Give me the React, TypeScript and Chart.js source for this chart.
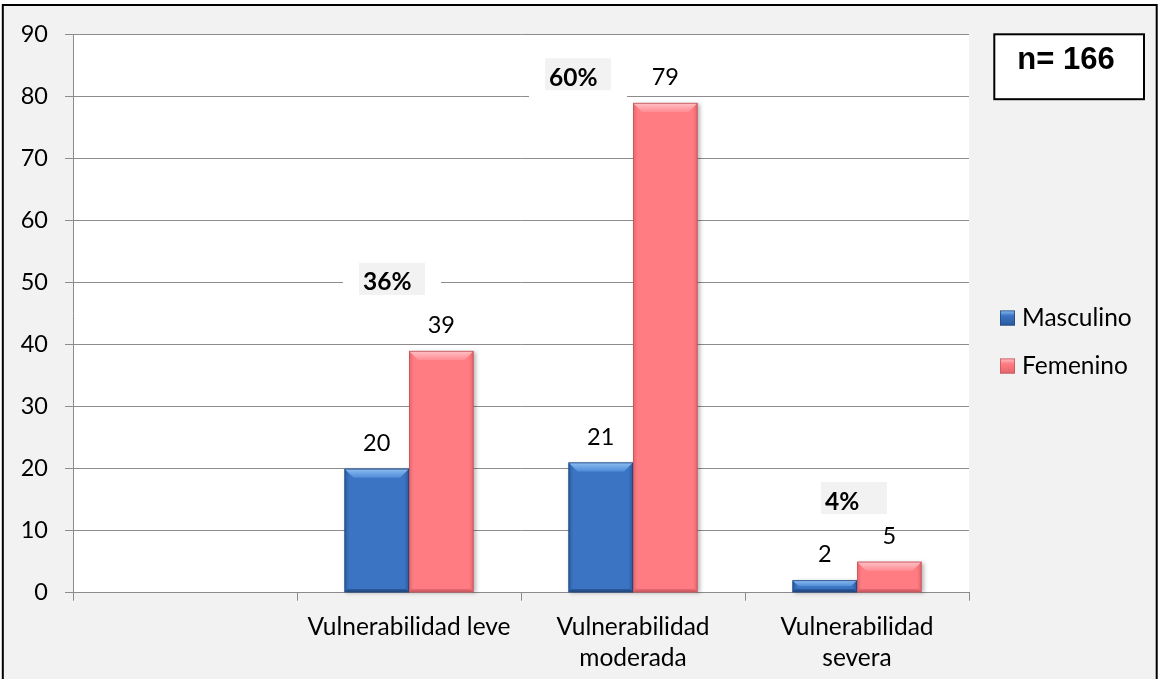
import React, { useEffect, useRef } from 'react';
import { Chart, registerables } from 'chart.js';

Chart.register(...registerables);

// ---- data ----
const categories: (string | string[])[] = [
  '',
  'Vulnerabilidad leve',
  ['Vulnerabilidad', 'moderada'],
  ['Vulnerabilidad', 'severa'],
];
const masculino: (number | null)[] = [null, 20, 21, 2];
const femenino: (number | null)[] = [null, 39, 79, 5];
const seriesNames = ['Masculino', 'Femenino'];
const percentLabels = ['', '36%', '60%', '4%'];
const sampleLabel = 'n= 166';
const yMin = 0;
const yMax = 90;
const yStep = 10;

// ---- layout ----
const W = 1159;
const H = 679;
const PLOT_LEFT = 73;
const PLOT_TOP = 34.7;
const PLOT_RIGHT = 969;
const PLOT_BOTTOM = 592.7;
const FONT = 'Lato, "Noto Sans", sans-serif';
const GRID = '#8c8c8c';

// where each percentage call-out sits: category index, pixel shift from the
// category centre, and the value-axis level of the box's upper edge
const calloutPlacement = [
  { cat: 1, dx: -17, top: 53.2 },
  { cat: 2, dx: -55, top: 86.2 },
  { cat: 3, dx: -3, top: 17.85 },
];

type Palette = {
  body: string;
  edge: string;
  hiTop: string;
  hiBottom: string;
  bottom: string;
  outline: string;
};

const BLUE: Palette = {
  body: '#3a74c2',
  edge: '#2a5aa0',
  hiTop: '#8fbff2',
  hiBottom: '#4f8bd8',
  bottom: '#244e8c',
  outline: '#22487f',
};
const PINK: Palette = {
  body: '#ff7c82',
  edge: '#e4656c',
  hiTop: '#ffc3c7',
  hiBottom: '#ff8d93',
  bottom: '#d85f68',
  outline: '#c2555d',
};
const palettes = [BLUE, PINK];

function bevelBar(ctx: CanvasRenderingContext2D, L: number, R: number, T: number, B: number, p: Palette) {
  const w = R - L;
  const h = B - T;
  if (w <= 0 || h <= 0) return;
  const b = Math.min(9, h / 2, w / 2);
  ctx.save();
  // body with soft shadow
  ctx.shadowColor = 'rgba(0,0,0,0.28)';
  ctx.shadowBlur = 4;
  ctx.shadowOffsetX = 2;
  ctx.shadowOffsetY = 1;
  const g = ctx.createLinearGradient(L, 0, R, 0);
  g.addColorStop(0, p.edge);
  g.addColorStop(0.07, p.body);
  g.addColorStop(0.93, p.body);
  g.addColorStop(1, p.edge);
  ctx.fillStyle = g;
  ctx.fillRect(L, T, w, h);
  ctx.shadowColor = 'transparent';
  // top facet
  const tg = ctx.createLinearGradient(0, T, 0, T + b);
  tg.addColorStop(0, p.hiTop);
  tg.addColorStop(1, p.hiBottom);
  ctx.fillStyle = tg;
  ctx.beginPath();
  ctx.moveTo(L, T);
  ctx.lineTo(R, T);
  ctx.lineTo(R - b, T + b);
  ctx.lineTo(L + b, T + b);
  ctx.closePath();
  ctx.fill();
  // bottom facet
  const bb = Math.min(3, h / 4);
  ctx.fillStyle = p.bottom;
  ctx.beginPath();
  ctx.moveTo(L, B);
  ctx.lineTo(R, B);
  ctx.lineTo(R - bb, B - bb);
  ctx.lineTo(L + bb, B - bb);
  ctx.closePath();
  ctx.fill();
  // outline
  ctx.strokeStyle = p.outline;
  ctx.lineWidth = 0.8;
  ctx.strokeRect(L + 0.4, T + 0.4, w - 0.8, h - 0.8);
  ctx.restore();
}

const decorPlugin = {
  id: 'decor',
  beforeDraw(chart: any) {
    const ctx: CanvasRenderingContext2D = chart.ctx;
    ctx.save();
    ctx.fillStyle = '#ffffff';
    ctx.fillRect(0, 0, W, H);
    ctx.fillStyle = '#f2f2f2';
    ctx.fillRect(3, 5, 1154, H);
    ctx.strokeStyle = '#000';
    ctx.lineWidth = 2;
    ctx.strokeRect(2.8, 5, 1153.9, H + 20);
    const a = chart.chartArea;
    ctx.fillStyle = '#ffffff';
    ctx.fillRect(a.left, a.top, a.right - a.left, a.bottom - a.top);
    ctx.restore();
  },
  afterDatasetsDraw(chart: any) {
    const ctx: CanvasRenderingContext2D = chart.ctx;
    const xs = chart.scales.x;
    const ys = chart.scales.y;

    // bevelled bars and their value labels
    chart.data.datasets.forEach((ds: any, di: number) => {
      const meta = chart.getDatasetMeta(di);
      meta.data.forEach((el: any, i: number) => {
        const v = ds.data[i];
        if (v === null || v === undefined) return;
        const { x, y, base, width } = el.getProps(['x', 'y', 'base', 'width'], true);
        bevelBar(ctx, x - width / 2, x + width / 2, y, base, palettes[di]);
        ctx.save();
        ctx.fillStyle = '#000';
        ctx.font = `23.5px ${FONT}`;
        ctx.textAlign = 'center';
        ctx.textBaseline = 'alphabetic';
        ctx.fillText(String(v), x, y - 18);
        ctx.restore();
      });
    });

    // percentage call-outs
    calloutPlacement.forEach((c) => {
      const text = percentLabels[c.cat];
      if (!text) return;
      const cx = xs.getPixelForValue(c.cat) + c.dx;
      const top = ys.getPixelForValue(c.top);
      const bw = 66;
      const bh = 32;
      const left = cx - bw / 2;
      ctx.save();
      ctx.fillStyle = '#ffffff';
      ctx.fillRect(left - 16, top - 4, bw + 32, bh + 14);
      ctx.fillStyle = '#f2f2f2';
      ctx.fillRect(left, top, bw, bh);
      ctx.fillStyle = '#000';
      ctx.font = `bold 24.5px ${FONT}`;
      ctx.textAlign = 'left';
      ctx.textBaseline = 'alphabetic';
      ctx.fillText(text, left + 4, top + 27.5);
      ctx.restore();
    });
  },
  afterDraw(chart: any) {
    const ctx: CanvasRenderingContext2D = chart.ctx;
    ctx.save();
    // sample size box
    ctx.fillStyle = '#ffffff';
    ctx.fillRect(994.3, 34.3, 149.7, 64.9);
    ctx.strokeStyle = '#000';
    ctx.lineWidth = 2;
    ctx.strokeRect(994.3, 34.3, 149.7, 64.9);
    ctx.fillStyle = '#000';
    ctx.font = 'bold 31px "Liberation Sans", Arial, sans-serif';
    ctx.textAlign = 'center';
    ctx.textBaseline = 'alphabetic';
    ctx.fillText(sampleLabel, 1066, 68.5);

    // legend
    const rows = [318, 366];
    seriesNames.forEach((name, i) => {
      const cy = rows[i];
      const p = palettes[i];
      const sx = 1000;
      const sy = cy - 7.5;
      const g = ctx.createLinearGradient(0, sy, 0, sy + 15);
      g.addColorStop(0, p.hiTop);
      g.addColorStop(0.35, p.body);
      g.addColorStop(1, p.edge);
      ctx.fillStyle = g;
      ctx.fillRect(sx, sy, 15, 15);
      ctx.strokeStyle = p.outline;
      ctx.lineWidth = 0.8;
      ctx.strokeRect(sx + 0.4, sy + 0.4, 14.2, 14.2);
      ctx.fillStyle = '#000';
      ctx.font = `24.5px ${FONT}`;
      ctx.textAlign = 'left';
      ctx.textBaseline = 'middle';
      ctx.fillText(name, 1022, cy);
    });
    ctx.restore();
  },
};

export default function App() {
  const canvasRef = useRef<HTMLCanvasElement | null>(null);

  useEffect(() => {
    document.body.style.margin = '0';
    const canvas = canvasRef.current;
    if (!canvas) return;
    const chart = new Chart(canvas, {
      type: 'bar',
      data: {
        labels: categories as any,
        datasets: [
          {
            label: seriesNames[0],
            data: masculino,
            backgroundColor: 'rgba(0,0,0,0)',
            borderWidth: 0,
            categoryPercentage: 0.576,
            barPercentage: 1,
          },
          {
            label: seriesNames[1],
            data: femenino,
            backgroundColor: 'rgba(0,0,0,0)',
            borderWidth: 0,
            categoryPercentage: 0.576,
            barPercentage: 1,
          },
        ],
      },
      options: {
        responsive: false,
        animation: false,
        devicePixelRatio: 1,
        layout: {
          padding: { left: 0, top: PLOT_TOP, right: W - PLOT_RIGHT, bottom: 0 },
        },
        plugins: {
          legend: { display: false },
          tooltip: { enabled: false },
        },
        scales: {
          x: {
            offset: true,
            grid: {
              offset: true,
              drawOnChartArea: false,
              drawTicks: true,
              tickLength: 8,
              color: GRID,
            },
            border: { color: GRID, width: 1 },
            ticks: {
              font: { family: FONT, size: 24.5, lineHeight: 1.27 },
              color: '#000',
              padding: 10.8,
              maxRotation: 0,
              autoSkip: false,
            },
            afterFit: (s: any) => {
              s.height = H - PLOT_BOTTOM;
            },
          },
          y: {
            min: yMin,
            max: yMax,
            grid: { color: GRID, tickLength: 8, drawTicks: true },
            border: { color: GRID, width: 1 },
            ticks: {
              stepSize: yStep,
              font: { family: FONT, size: 23.5 },
              color: '#000',
              padding: 17,
            },
            afterFit: (s: any) => {
              s.width = PLOT_LEFT;
            },
          },
        },
      },
      plugins: [decorPlugin],
    });
    return () => chart.destroy();
  }, []);

  return (
    <canvas
      ref={canvasRef}
      width={W}
      height={H}
      style={{ display: 'block', width: W, height: H }}
    />
  );
}
